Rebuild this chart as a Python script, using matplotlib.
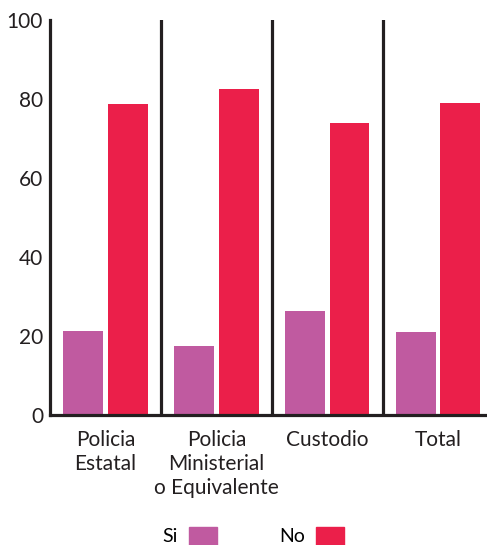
import numpy as np
import matplotlib.pyplot as plt
from matplotlib.patches import Patch

# datos
categorias = ["Policia\nEstatal", "Policia\nMinisterial\no Equivalente", "Custodio", "Total"]
si_vals = [21.3, 17.5, 26.3, 21.0]
no_vals = [78.7, 82.5, 73.9, 79.0]
yticks = [0, 20, 40, 60, 80, 100]

color_si = "#c05aa0"
color_no = "#eb1f4a"
color_eje = "#231f20"

plt.rcParams['font.family'] = ['Lato', 'DejaVu Sans']

fig = plt.figure(figsize=(4.87, 5.45), dpi=100)
ax = fig.add_axes([0.1027, 0.2385, 0.8973, 0.7248])

x = np.arange(len(categorias))
ancho = 0.36
ax.bar(x - 0.2, si_vals, ancho, color=color_si)
ax.bar(x + 0.2, no_vals, ancho, color=color_no)

# separadores entre grupos
for sep in x[:-1] + 0.5:
    ax.axvline(sep, color=color_eje, lw=2.3, zorder=3)

ax.set_xlim(-0.5, 3.44)
ax.set_ylim(0, 100)
ax.set_yticks(yticks)
ax.set_yticklabels([str(v) for v in yticks], fontsize=15, color="#231f20")
ax.set_xticks(x)
ax.set_xticklabels(categorias, fontsize=15, color="#231f20", linespacing=1.25)
ax.tick_params(axis='both', length=0)
ax.tick_params(axis='y', pad=5)
ax.tick_params(axis='x', pad=11)

for lado in ['top', 'right']:
    ax.spines[lado].set_visible(False)
for lado in ['left', 'bottom']:
    ax.spines[lado].set_color(color_eje)
    ax.spines[lado].set_linewidth(2.3)

handles = [Patch(color=color_si, label="Si"), Patch(color=color_no, label="No")]
fig.legend(handles=handles, loc='lower center', bbox_to_anchor=(0.52, -0.033), ncol=2,
           frameon=False, markerfirst=False, fontsize=14, handlelength=1.45,
           handleheight=1.0, columnspacing=3.2, handletextpad=0.55)

fig.savefig("out.png", dpi=100)
